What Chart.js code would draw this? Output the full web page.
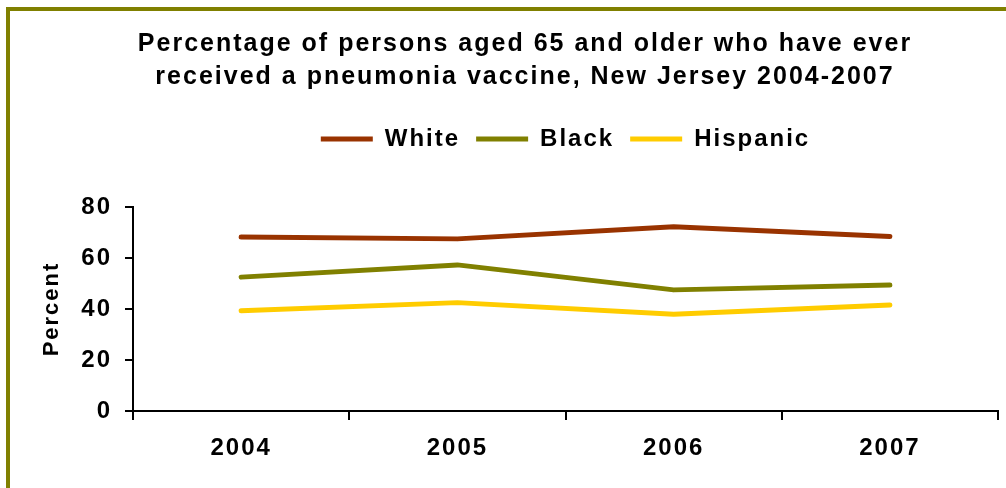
<!DOCTYPE html>
<html>
<head>
<meta charset="utf-8">
<script src="https://cdn.jsdelivr.net/npm/chart.js@4.4.1/dist/chart.umd.min.js"></script>
<style>
  html, body { margin: 0; padding: 0; background: #fff; overflow: hidden; }
  #frame { position: absolute; left: 6px; top: 7px; width: 1200px; height: 700px; border: 4px solid #808000; box-sizing: border-box; }
  #wrap { position: absolute; left: 0; top: 0; width: 1006px; height: 488px; }
</style>
</head>
<body>
<div id="frame"></div>
<div id="wrap"><canvas id="chart"></canvas></div>
<script>
// data
const years = ['2004', '2005', '2006', '2007'];
const white = [68.2, 67.5, 72.3, 68.4];
const black = [52.5, 57.3, 47.5, 49.4];
const hispanic = [39.3, 42.5, 37.9, 41.6];
const yTicks = [0, 20, 40, 60, 80];

const FONT = 'Liberation Sans, Arial, sans-serif';

// spread letters like the original (canvas letterSpacing)
const spacing = {
  id: 'spacing',
  beforeLayout(chart) { chart.ctx.letterSpacing = '2px'; },
  beforeDraw(chart) { chart.ctx.letterSpacing = '2px'; }
};

const ctx = document.getElementById('chart').getContext('2d');
new Chart(ctx, {
  type: 'line',
  data: {
    labels: years,
    datasets: [
      { label: 'White', data: white, borderColor: '#993300', backgroundColor: '#993300' },
      { label: 'Black', data: black, borderColor: '#808000', backgroundColor: '#808000' },
      { label: 'Hispanic', data: hispanic, borderColor: '#FFCC00', backgroundColor: '#FFCC00' }
    ]
  },
  options: {
    responsive: true,
    maintainAspectRatio: false,
    animation: false,
    datasets: {
      line: { xAxisID: 'x', yAxisID: 'y', borderWidth: 5, tension: 0, pointRadius: 0, borderCapStyle: 'round', borderJoinStyle: 'round' }
    },
    layout: { padding: { left: 52, right: 8, top: 0, bottom: 0 } },
    plugins: {
      title: {
        display: true,
        text: ['Percentage of persons aged 65 and older who have ever', 'received a pneumonia vaccine, New Jersey 2004-2007'],
        color: '#000',
        font: { family: FONT, size: 25, weight: 'bold', lineHeight: 1.32 },
        padding: { top: 28, bottom: 17 }
      },
      legend: {
        display: true,
        fullSize: false,
        labels: {
          usePointStyle: true,
          pointStyle: 'line',
          pointStyleWidth: 52,
          color: '#000',
          font: { family: FONT, size: 24, weight: 'bold' },
          padding: 16
        }
      },
      tooltip: { enabled: false }
    },
    scales: {
      x: {
        position: 'bottom',
        offset: true,
        grid: { display: true, drawOnChartArea: false, offset: true, tickLength: 9, color: '#000', lineWidth: 2 },
        border: { display: true, color: '#000', width: 2 },
        ticks: { color: '#000', padding: 14, font: { family: FONT, size: 24, weight: 'bold' } },
        afterFit(s) { s.height = 77; }
      },
      spacer: {
        type: 'category',
        position: 'top',
        offset: true,
        grid: { display: false },
        border: { display: false },
        ticks: { display: false },
        afterFit(s) { s.height = 46; }
      },
      y: {
        min: 0,
        max: 80,
        afterBuildTicks(s) { s.ticks = yTicks.map(v => ({ value: v })); },
        grid: { display: true, drawOnChartArea: false, tickLength: 8, color: '#000', lineWidth: 2 },
        border: { display: true, color: '#000', width: 2 },
        ticks: { color: '#000', padding: 13, font: { family: FONT, size: 24, weight: 'bold' } },
        title: {
          display: true,
          text: 'Percent',
          color: '#000',
          font: { family: FONT, size: 22, weight: 'bold', lineHeight: 1.2 },
          padding: { top: -13.2, bottom: 0 }
        },
        afterFit(s) { s.width = 81; }
      }
    }
  },
  plugins: [spacing]
});
</script>
</body>
</html>
